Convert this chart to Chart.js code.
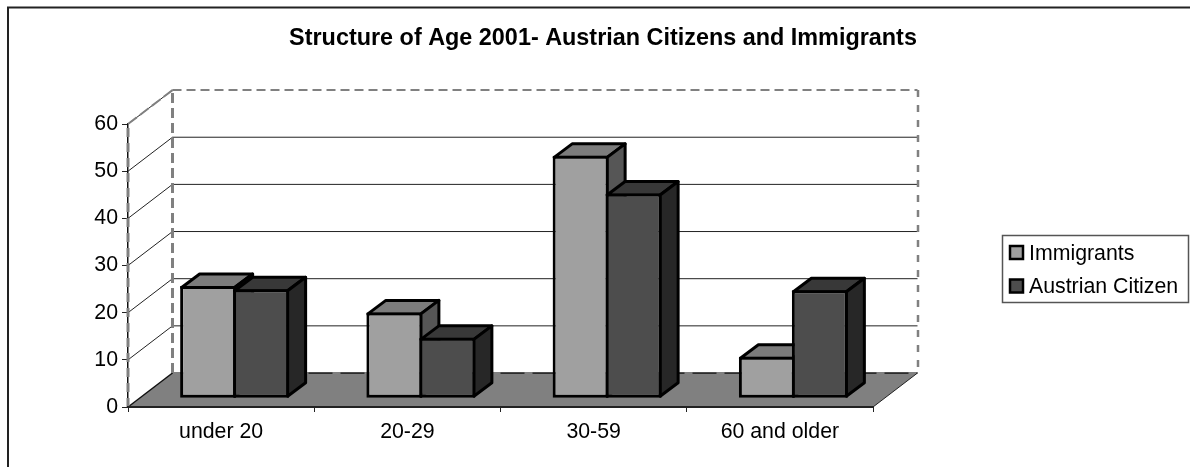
<!DOCTYPE html>
<html>
<head>
<meta charset="utf-8">
<title>Structure of Age 2001</title>
<style>
    html, body { margin: 0; padding: 0; background: #fff; }
    #wrap { position: relative; width: 1190px; height: 467px; }
</style>
<script src="https://cdn.jsdelivr.net/npm/chart.js@4/dist/chart.umd.min.js"></script>
</head>
<body>
<div id="wrap"><canvas id="ageChart" width="1190" height="467"></canvas></div>
<script>
// Chart data
const chartTitle = 'Structure of Age 2001- Austrian Citizens and Immigrants';
const ageGroups = ['under 20', '20-29', '30-59', '60 and older'];
const immigrants = [23.8, 18.2, 51.4, 8.8];
const austrianCitizens = [23.1, 12.8, 43.4, 22.9];
const yTicks = [0, 10, 20, 30, 40, 50, 60];

const FONT = 'Liberation Sans, Arial, sans-serif';
const LABEL_SIZE = 21.3;

// Depth of the fake 3D box, and how far the bars sit inside it
const DEPTH_X = 44.5, DEPTH_Y = -34;
const BAR_X = 13.5, BAR_Y = -8.8;
const BAR_DEPTH_X = 18, BAR_DEPTH_Y = -13.5;
const BAR_LINE = 3;

const shades = [
    { front: '#a0a0a0', top: '#7c7c7c', side: '#565656' },
    { front: '#4d4d4d', top: '#383838', side: '#272727' }
];

function line(ctx, points, color, width, dash) {
    ctx.save();
    ctx.strokeStyle = color;
    ctx.lineWidth = width;
    ctx.setLineDash(dash || []);
    ctx.beginPath();
    points.forEach((p, i) => i ? ctx.lineTo(p[0], p[1]) : ctx.moveTo(p[0], p[1]));
    ctx.stroke();
    ctx.restore();
}

function face(ctx, points, fill) {
    ctx.fillStyle = fill;
    ctx.beginPath();
    points.forEach((p, i) => i ? ctx.lineTo(p[0], p[1]) : ctx.moveTo(p[0], p[1]));
    ctx.closePath();
    ctx.fill();
    ctx.stroke();
}

function drawWalls(chart) {
    const ctx = chart.ctx;
    const { left, right } = chart.chartArea;
    const y = chart.scales.y;
    const y0 = y.getPixelForValue(0);
    const yMax = y.getPixelForValue(60);
    const backL = left + DEPTH_X, backR = right + DEPTH_X;

    // chart frame, open on the right and at the bottom
    line(ctx, [[8, 467], [8, 7.5], [1190, 7.5]], '#222', 2);

    ctx.fillStyle = '#808080';
    ctx.beginPath();
    ctx.moveTo(left, y0);
    ctx.lineTo(right, y0);
    ctx.lineTo(backR, y0 + DEPTH_Y);
    ctx.lineTo(backL, y0 + DEPTH_Y);
    ctx.closePath();
    ctx.fill();

    yTicks.slice(1, -1).forEach(v => {
        const py = y.getPixelForValue(v);
        line(ctx, [[left, py], [backL, py + DEPTH_Y], [backR, py + DEPTH_Y]], '#222', 1);
    });

    // floor edges
    line(ctx, [[backL, y0 + DEPTH_Y], [backR, y0 + DEPTH_Y]], '#111', 1.5);
    line(ctx, [[backL, y0 + DEPTH_Y], [backR, y0 + DEPTH_Y]], '#808080', 2, [8, 24]);
    line(ctx, [[left, y0], [backL, y0 + DEPTH_Y]], '#111', 1.5);
    line(ctx, [[right, y0], [backR, y0 + DEPTH_Y]], '#222', 1);

    // dashed outline of the walls
    line(ctx, [[left, y0], [left, yMax]], '#808080', 3, [9, 6]);
    line(ctx, [[left, yMax], [backL, yMax + DEPTH_Y]], '#222', 1);
    line(ctx, [[left, yMax], [backL, yMax + DEPTH_Y]], '#808080', 2, [11, 4]);
    line(ctx, [[backL, y0 + DEPTH_Y], [backL, yMax + DEPTH_Y]], '#808080', 3, [10, 5]);
    line(ctx, [[backL, yMax + DEPTH_Y], [backR, yMax + DEPTH_Y]], '#808080', 2, [9, 5]);
    line(ctx, [[backR + 0.5, yMax + DEPTH_Y], [backR + 0.5, y0 + DEPTH_Y]], '#808080', 2.5, [7, 8]);
}

// Draws one series: top and side faces, then the library's own bar as the front face
function drawSeries(chart, index) {
    const ctx = chart.ctx;
    const meta = chart.getDatasetMeta(index);
    const colors = shades[index];
    const inset = BAR_LINE / 2;
    ctx.save();
    ctx.translate(BAR_X, BAR_Y);
    ctx.strokeStyle = '#000';
    ctx.lineWidth = BAR_LINE;
    ctx.lineJoin = 'round';
    meta.data.forEach(bar => {
        const { x, y, base, width } = bar.getProps(['x', 'y', 'base', 'width'], true);
        const l = x - width / 2 + inset, r = x + width / 2 - inset;
        const t = y + inset, b = base - inset;
        face(ctx, [[l, t], [l + BAR_DEPTH_X, t + BAR_DEPTH_Y], [r + BAR_DEPTH_X, t + BAR_DEPTH_Y], [r, t]], colors.top);
        face(ctx, [[r, t], [r + BAR_DEPTH_X, t + BAR_DEPTH_Y], [r + BAR_DEPTH_X, b + BAR_DEPTH_Y], [r, b]], colors.side);
    });
    meta.controller.draw();
    ctx.restore();
}

const boxPlugin = {
    id: 'box3d',
    beforeDatasetsDraw(chart) {
        drawWalls(chart);
        // first series goes underneath, so the second one overlaps its side face
        drawSeries(chart, 0);
        drawSeries(chart, 1);
        return false;
    },
    afterDraw(chart) {
        const ctx = chart.ctx;
        ctx.save();
        ctx.strokeStyle = '#555';
        ctx.lineWidth = 1.5;
        ctx.strokeRect(1002.5, 235.5, 186, 67);

        ctx.font = LABEL_SIZE + 'px ' + FONT;
        ctx.textBaseline = 'middle';
        chart.data.datasets.forEach((ds, i) => {
            const cy = 252.5 + i * 33.5;
            ctx.fillStyle = ds.backgroundColor;
            ctx.strokeStyle = '#000';
            ctx.lineWidth = 2.5;
            ctx.fillRect(1010, cy - 6.5, 13, 13);
            ctx.strokeRect(1010, cy - 6.5, 13, 13);
            ctx.fillStyle = '#000';
            ctx.fillText(ds.label, 1029, cy + 1.5);
        });
        ctx.restore();
    }
};

new Chart(document.getElementById('ageChart'), {
    type: 'bar',
    data: {
        labels: ageGroups,
        datasets: [
            {
                label: 'Immigrants',
                data: immigrants,
                backgroundColor: shades[0].front,
                borderColor: '#000',
                borderWidth: BAR_LINE,
                borderSkipped: false
            },
            {
                label: 'Austrian Citizen',
                data: austrianCitizens,
                backgroundColor: shades[1].front,
                borderColor: '#000',
                borderWidth: BAR_LINE,
                borderSkipped: false
            }
        ]
    },
    options: {
        responsive: false,
        animation: false,
        layout: { padding: { left: 16 } },
        datasets: { bar: { categoryPercentage: 0.569, barPercentage: 1.057 } },
        plugins: {
            legend: { display: false },
            tooltip: { enabled: false },
            title: {
                display: true,
                text: chartTitle,
                color: '#000',
                font: { family: FONT, size: 23.4, weight: 'bold' },
                padding: { top: 25, bottom: 71 }
            }
        },
        scales: {
            x: {
                grid: { offset: true, drawOnChartArea: false, color: '#222', tickLength: 5 },
                border: { color: '#222', width: 2, z: 1 },
                ticks: { color: '#000', font: { family: FONT, size: LABEL_SIZE }, padding: 7, maxRotation: 0 },
                afterFit(scale) { scale.height = 60; }
            },
            y: {
                min: 0,
                max: 60,
                grid: { drawOnChartArea: false, color: '#222', tickLength: 6 },
                border: { color: '#111', width: 1.5 },
                ticks: { color: '#000', stepSize: 10, font: { family: FONT, size: LABEL_SIZE }, padding: 4 },
                afterFit(scale) { scale.width = 112; }
            },
            // empty axis that keeps room free for the legend and the box depth
            spacer: {
                type: 'linear',
                position: 'right',
                grid: { display: false },
                border: { display: false },
                ticks: { display: false },
                afterFit(scale) { scale.width = 317; }
            }
        }
    },
    plugins: [boxPlugin]
});
</script>
</body>
</html>
